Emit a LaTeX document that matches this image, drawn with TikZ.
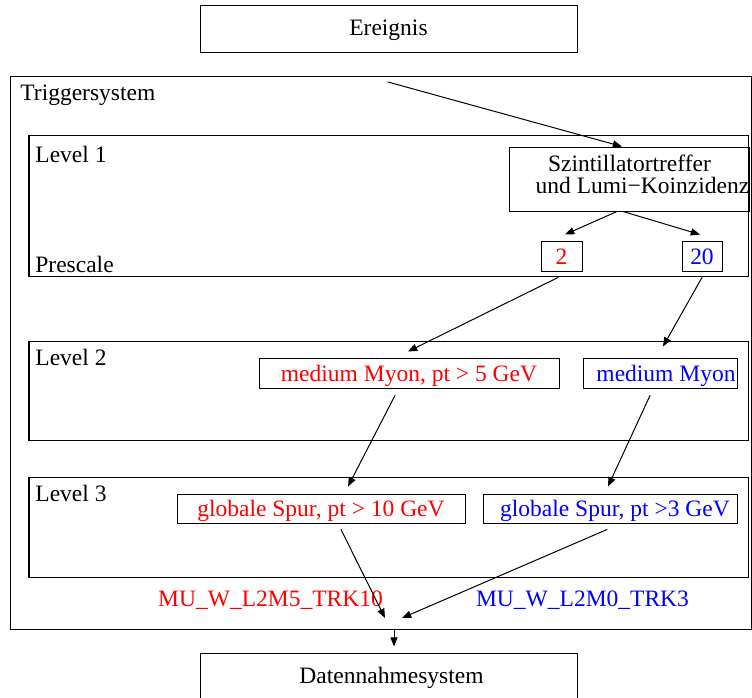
\documentclass[tikz,border=0pt]{standalone}
\usepackage{fontspec}
\setmainfont{Liberation Serif}
\usetikzlibrary{arrows.meta}

\begin{document}
\begin{tikzpicture}[x=0.5pt,y=-0.5pt,>={Triangle[length=4.6pt,width=3.6pt]},
  font=\fontsize{11.75}{12}\selectfont,line cap=round,
  frame/.style={draw,line width=0.5pt,inner sep=0pt},
  lvl/.style={frame,minimum width=359.5pt},
  tbox/.style={frame,text height=8pt,text depth=0pt},
  wide/.style={frame,minimum width=188.5pt,minimum height=23.5pt,text height=6.5pt,text depth=0pt},
  lbl/.style={anchor=base west,inner sep=0pt},
  conn/.style={->,line width=0.5pt}]
\useasboundingbox (0,0) rectangle (752,698);
% outer boxes
\node[wide] (ereignis) at (388.5,28.5) {Ereignis};
\node[frame,minimum width=370pt,minimum height=276.5pt] (trigger) at (381,352.5) {};
\node[lvl,minimum height=70.5pt] (level1) at (388.5,205.5) {};
\node[lvl,minimum height=49.5pt] (level2) at (388.5,390.5) {};
\node[lvl,minimum height=50pt] (level3) at (388.5,527) {};
\node[wide] (daten) at (388.5,676.5) {\hspace*{3pt}Datennahmesystem};
% labels
\node[lbl] (trigname) at (20,100.5) {Triggersystem};
\node[lbl] (l1name) at (35,162) {Level 1};
\node[lbl] (prescale) at (35,272) {Prescale};
\node[lbl] (l2name) at (35,365) {Level 2};
\node[lbl] (l3name) at (35,501) {Level 3};
% level 1
\node[frame,minimum width=118.5pt,minimum height=32pt,align=center,
  font=\fontsize{11.75}{11}\selectfont] (szint) at (629.5,179)
  {Szintillatortreffer\\\hspace*{13pt}und Lumi−Koinzidenz\rule[-4.3pt]{0pt}{0pt}};
\node[tbox,minimum width=20.5pt,minimum height=15pt,text depth=-0.5pt,text=red] (ps2) at (561.5,256) {2};
\node[tbox,minimum width=20pt,minimum height=15pt,text depth=-0.5pt,text=blue] (ps20) at (702,256) {20};
% level 2
\node[tbox,minimum width=150pt,minimum height=15pt,text=red] (l2red) at (409,373) {medium Myon, pt > 5 GeV};
\node[tbox,minimum width=77pt,minimum height=15pt,text=blue] (l2blue) at (660,373) {\hspace*{6pt}medium Myon};
% level 3
\node[tbox,minimum width=144pt,minimum height=14.5pt,text=red] (l3red) at (321,508.5) {globale Spur, pt > 10 GeV};
\node[tbox,minimum width=127pt,minimum height=14.5pt,text=blue] (l3blue) at (610,508.5) {\hspace*{5pt}globale Spur, pt >3 GeV};
\node[anchor=base,inner sep=0pt,text=red] (trkred) at (270.5,606) {MU\_W\_L2M5\_TRK10};
\node[anchor=base,inner sep=0pt,text=blue] (trkblue) at (582.5,606) {MU\_W\_L2M0\_TRK3};
% connectors
\coordinate (entry) at (388,82);
\coordinate (joinL) at (385,618);
\coordinate (joinR) at (402,618);
\coordinate (exit) at (394,629);
\draw[conn] (entry) -- ([xshift=-3.75pt]szint.north);
\draw[conn] ([xshift=-6.25pt]szint.south) -- ([xshift=1.75pt,yshift=3pt]ps2.north);
\draw[conn] ([xshift=-3.25pt]szint.south) -- ([xshift=-1pt,yshift=3pt]ps20.north);
\draw[conn] ([xshift=-1.75pt,yshift=-3pt]ps2.south) -- ([xshift=-0.5pt,yshift=3pt]l2red.north);
\draw[conn] ([yshift=-3pt]ps20.south) -- ([xshift=1.5pt,yshift=5.5pt]l2blue.north);
\draw[conn] ([xshift=-7pt,yshift=-3.5pt]l2red.south) -- ([xshift=13.5pt,yshift=3.5pt]l3red.north);
\draw[conn] ([xshift=-5pt,yshift=-3.5pt]l2blue.south) -- ([xshift=-1pt,yshift=3.5pt]l3blue.north);
\draw[conn] ([xshift=10pt,yshift=-3pt]l3red.south) -- (joinL);
\draw[conn] ([xshift=-1.5pt,yshift=-3pt]l3blue.south) -- (joinR);
\draw[conn] (exit) -- ([xshift=2.75pt,yshift=3pt]daten.north);
\end{tikzpicture}
\end{document}
